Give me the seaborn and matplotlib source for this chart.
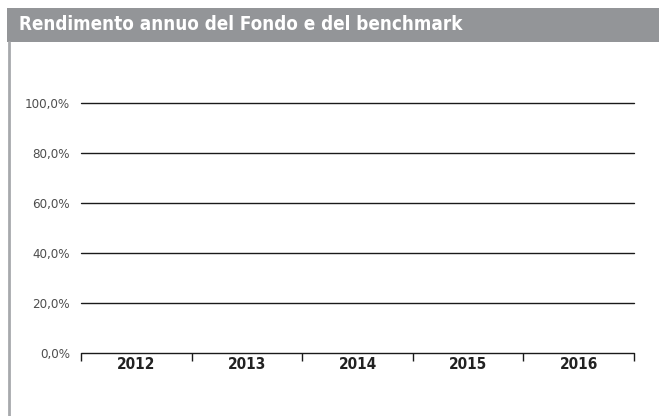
import numpy as np
import pandas as pd
import matplotlib
matplotlib.use("Agg")
import matplotlib.pyplot as plt
import seaborn as sns
from matplotlib.patches import Rectangle
from matplotlib.lines import Line2D

title = "Rendimento annuo del Fondo e del benchmark"
years = ["2012", "2013", "2014", "2015", "2016"]
fondo = [np.nan, np.nan, np.nan, np.nan, np.nan]
benchmark = [np.nan, np.nan, np.nan, np.nan, np.nan]
yticks = [0, 20, 40, 60, 80, 100]
ytick_labels = ["0,0%", "20,0%", "40,0%", "60,0%", "80,0%", "100,0%"]

sns.set_theme(style="white")
plt.rcParams['font.family'] = ['DejaVu Sans']
plt.rcParams['font.stretch'] = 'condensed'

df = pd.DataFrame({
    "anno": years * 2,
    "serie": ["Fondo"] * len(years) + ["Benchmark"] * len(years),
    "valore": fondo + benchmark,
})

fig = plt.figure(figsize=(6.59, 4.16), dpi=100)
ax = fig.add_axes([81/659, 63/416, (634-81)/659, (353-103)/416])

sns.barplot(data=df, x="anno", y="valore", hue="serie", order=years, ax=ax,
            palette=["#1f3f7a", "#9bb3d6"], legend=False)

ax.set_ylim(0, 100)
ax.set_xlim(-0.5, len(years) - 0.5)
ax.set_yticks(yticks)
ax.set_yticklabels(ytick_labels, fontsize=9.5, color="#4d4d4d", stretch='condensed')
ax.tick_params(axis='y', length=0, pad=8)
for y in yticks:
    ax.axhline(y, color="#1a1a1a", lw=1.0, zorder=3, clip_on=False)

ax.set_xticks(range(len(years)))
ax.set_xticklabels(years, fontsize=11, fontweight="bold", color="#222222", stretch='condensed')
ax.tick_params(axis='x', which='major', length=0, pad=3)
ax.set_xticks(np.arange(-0.5, len(years), 1.0), minor=True)
ax.tick_params(axis='x', which='minor', direction='out', length=6, width=1.0,
               color="#1a1a1a", bottom=True)
ax.set_xlabel("")
ax.set_ylabel("")
for s in ax.spines.values():
    s.set_visible(False)

# header bar
fig.patches.append(Rectangle((7/659, 374/416), 1 - 7/659, 34/416,
                             transform=fig.transFigure, facecolor="#939598",
                             edgecolor="none", zorder=0))
fig.text(19/659, 391/416, title, color="white", fontsize=13.5, fontweight="bold",
         stretch='condensed', va="center", ha="left")
# left frame line
fig.lines.append(Line2D([9/659, 9/659], [0, 374/416], transform=fig.transFigure,
                        color="#a7a9ac", lw=2))

fig.savefig("out.png", dpi=100)
